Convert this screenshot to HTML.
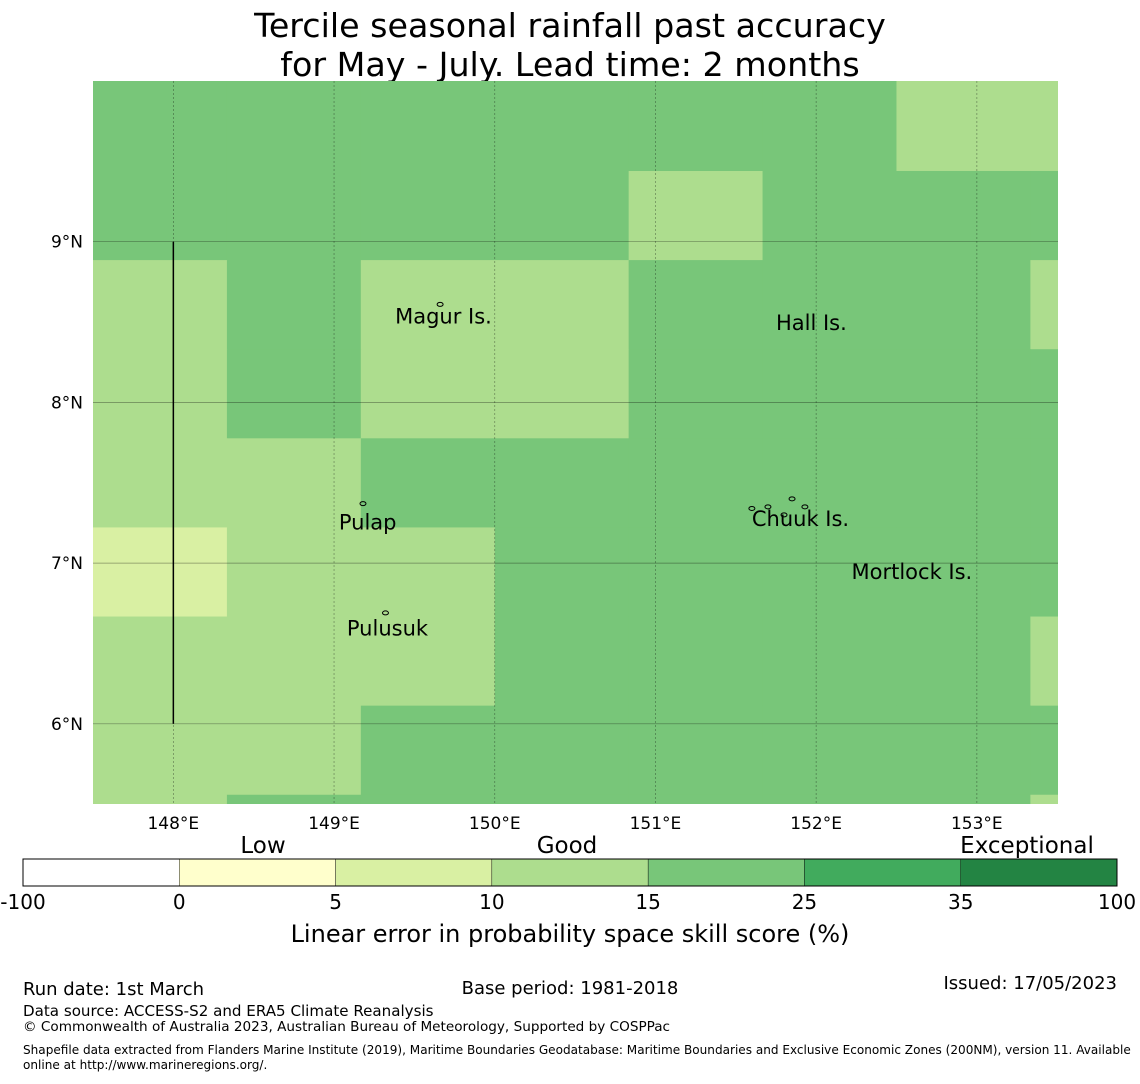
<!DOCTYPE html>
<html><head><meta charset="utf-8"><style>
body{margin:0;background:#fff;width:1140px;height:1080px;overflow:hidden;font-family:"DejaVu Sans","Liberation Sans",sans-serif;}
</style></head><body>
<svg id="chart" width="1140" height="1080" xmlns="http://www.w3.org/2000/svg" font-family="DejaVu Sans, Liberation Sans, sans-serif">
<text x="570" y="37" font-size="33.3" text-anchor="middle">Tercile seasonal rainfall past accuracy</text>
<text x="570" y="76" font-size="33.3" text-anchor="middle">for May - July. Lead time: 2 months</text>
<g id="map"></g>
<g id="cbar"></g>
<text x="263" y="853" font-size="23" text-anchor="middle">Low</text>
<text x="567" y="853" font-size="23" text-anchor="middle">Good</text>
<text x="1027" y="853" font-size="23" text-anchor="middle">Exceptional</text>
<text x="570" y="942" font-size="24" text-anchor="middle">Linear error in probability space skill score (%)</text>
<text x="23" y="995" font-size="18">Run date: 1st March</text>
<text x="570" y="994" font-size="18" text-anchor="middle">Base period: 1981-2018</text>
<text x="1117" y="989" font-size="18" text-anchor="end">Issued: 17/05/2023</text>
<text x="23" y="1016" font-size="15.1">Data source: ACCESS-S2 and ERA5 Climate Reanalysis</text>
<text x="23" y="1031" font-size="13.6">© Commonwealth of Australia 2023, Australian Bureau of Meteorology, Supported by COSPPac</text>
<text x="23" y="1054" font-size="12.07">Shapefile data extracted from Flanders Marine Institute (2019), Maritime Boundaries Geodatabase: Maritime Boundaries and Exclusive Economic Zones (200NM), version 11. Available</text>
<text x="23" y="1069" font-size="12.07">online at http://www.marineregions.org/.</text>
</svg>
<script>
const lonTicks=[148,149,150,151,152,153];
const latTicks=[9,8,7,6];
// cell skill scores (rows top->bottom, cols left->right)
const cellScores=[
[20,20,20,20,20,20,12,12],
[20,20,20,20,12,20,20,20],
[12,20,12,12,20,20,20,12],
[12,20,12,12,20,20,20,20],
[12,12,20,20,20,20,20,20],
[7,12,12,20,20,20,20,20],
[12,12,12,20,20,20,20,12],
[12,12,20,20,20,20,20,20],
[12,20,20,20,20,20,20,12]];
const cbBounds=[-100,0,5,10,15,25,35,100];
const cbColors=["#ffffff","#ffffcc","#d9f0a3","#addd8e","#78c679","#41ab5d","#238443"];
const placeNames=["Magur Is.","Hall Is.","Pulap","Chuuk Is.","Mortlock Is.","Pulusuk"];
const placeLon=[149.38,151.75,149.03,151.6,152.22,149.08];
const placeLat=[8.49,8.45,7.21,7.23,6.9,6.55];
const NS="http://www.w3.org/2000/svg";
const X0=93,X1=1058,Y0=81,Y1=804,LON0=147.5,PPD=160.7,LAT0=10.0;
const xs=lon=>X0+(lon-LON0)*PPD;
const ys=lat=>Y0+(LAT0-lat)*PPD;
const cellW=0.8333, rowTop=9.44, rowH=0.5545;
function colorFor(v){for(let i=0;i<cbColors.length;i++){if(v<cbBounds[i+1])return cbColors[i];}return cbColors[cbColors.length-1];}
function mk(tag,attrs,parent){const e=document.createElementNS(NS,tag);for(const k in attrs)e.setAttribute(k,attrs[k]);parent.appendChild(e);return e;}
const map=document.getElementById('map');
const cp=mk('clipPath',{id:'mc'},map);mk('rect',{x:X0,y:Y0,width:X1-X0,height:Y1-Y0},cp);
const cg=mk('g',{'clip-path':'url(#mc)'},map);
cellScores.forEach((row,r)=>{row.forEach((v,c)=>{
 const latT=r===0?LAT0:rowTop-(r-1)*rowH;
 const latB=rowTop-r*rowH;
 const x=xs(LON0+c*cellW),x2=xs(LON0+(c+1)*cellW);
 const y=ys(latT),y2=ys(latB);
 const e=mk('rect',{x:x,y:y,width:x2-x+0.5,height:y2-y+0.5,fill:colorFor(v)},cg);
 
 
});});
lonTicks.forEach(l=>{
 const x=xs(l);
 const g=mk('line',{x1:x,x2:x,y1:Y0,y2:Y1,stroke:'#000','stroke-opacity':0.4,'stroke-width':0.7,'stroke-dasharray':'2,2'},map);
 
 
 const t=mk('text',{x:x,y:829,'font-size':17,'text-anchor':'middle'},map);t.textContent=l+'°E';
 
 
});
latTicks.forEach(l=>{
 const y=ys(l);
 const g=mk('line',{x1:X0,x2:X1,y1:y,y2:y,stroke:'#000','stroke-opacity':0.4,'stroke-width':0.7},map);
 
 
 const t=mk('text',{x:83,y:y+6,'font-size':17,'text-anchor':'end'},map);t.textContent=l+'°N';
 
 
});
const bl=mk('line',{x1:xs(148),x2:xs(148),y1:ys(9),y2:ys(6),stroke:'#000','stroke-width':1.5},map);


placeNames.forEach((n,i)=>{
 const t=mk('text',{x:xs(placeLon[i]),y:ys(placeLat[i]),'font-size':21},map);t.textContent=n;
 
 
});
[[151.6,7.34],[151.7,7.35],[151.85,7.4],[151.8,7.3],[151.93,7.35],[149.18,7.37],[149.32,6.69],[149.66,8.61]].forEach(p=>{
 const e=mk('ellipse',{cx:xs(p[0]),cy:ys(p[1]),rx:3,ry:2,fill:'none',stroke:'#000','stroke-width':1},map);
 
 
});
const cb=document.getElementById('cbar');
const CX0=23,CX1=1117,CY=859,CH=27,segW=(CX1-CX0)/cbColors.length;
cbColors.forEach((c,i)=>{
 const e=mk('rect',{x:CX0+i*segW,y:CY,width:segW,height:CH,fill:c,stroke:'#000','stroke-width':0.4},cb);
 
 
});
mk('rect',{x:CX0,y:CY,width:CX1-CX0,height:CH,fill:'none',stroke:'#000','stroke-width':1},cb);
cbBounds.forEach((b,i)=>{
 const t=mk('text',{x:CX0+i*segW,y:909,'font-size':20,'text-anchor':'middle'},cb);t.textContent=b;
 
 
});
</script>
</body></html>
